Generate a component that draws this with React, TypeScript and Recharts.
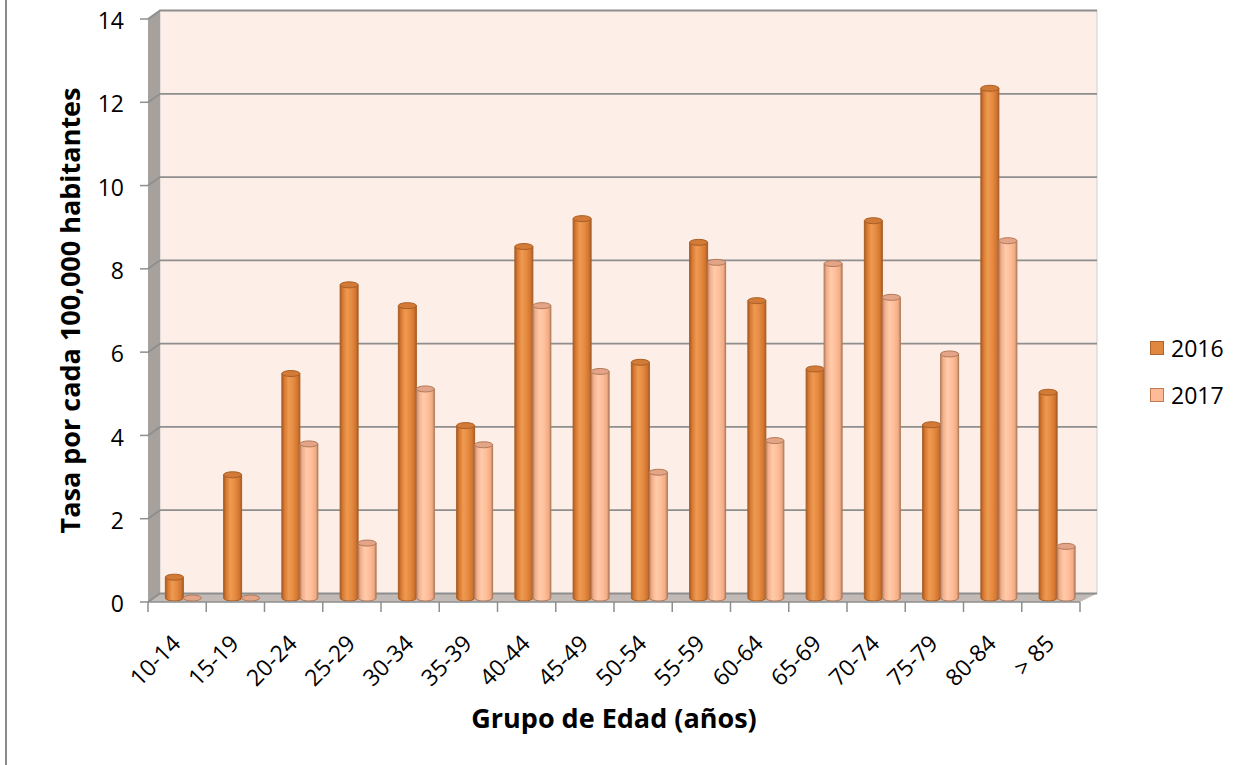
import React from 'react';
import { BarChart, Bar, XAxis, YAxis, Legend, ReferenceArea } from 'recharts';

const categories = ['10-14', '15-19', '20-24', '25-29', '30-34', '35-39', '40-44', '45-49', '50-54', '55-59', '60-64', '65-69', '70-74', '75-79', '80-84', '> 85'];
const values2016 = [0.5, 2.96, 5.39, 7.52, 7.02, 4.14, 8.44, 9.11, 5.66, 8.54, 7.14, 5.5, 9.06, 4.16, 12.24, 4.94];
const values2017 = [0, 0, 3.7, 1.32, 5.02, 3.68, 7.02, 5.44, 3.02, 8.06, 3.78, 8.03, 7.22, 5.86, 8.58, 1.24];
const yTicks = [0, 2, 4, 6, 8, 10, 12, 14];
const seriesNames = ['2016', '2017'];
const yTitle = 'Tasa por cada 100,000 habitantes';
const xTitle = 'Grupo de Edad (años)';

const data = categories.map((c, i) => ({ grupo: c, v2016: values2016[i], v2017: values2017[i] }));

const FONT = '"Open Sans", "Liberation Sans", sans-serif';
const BACK_DX_L = 12;
const BACK_DX_R = 17;
const BACK_DY = -8.5;
const MID_DX = 6.3;
const MID_DY = -4;

const WallShape = (props: any) => {
  const { x, y, width, height } = props;
  if (x == null) return null;
  const bx = x + BACK_DX_L;
  const by = y + BACK_DY;
  const bxr = x + width + BACK_DX_R;
  const byb = y + height + BACK_DY;
  const span = yTicks[yTicks.length - 1] - yTicks[0];
  return (
    <g>
      <rect x={bx} y={by} width={bxr - bx} height={byb - by} fill="#FDEEE7" stroke="#CFCFCF" strokeWidth={1} />
      <polygon points={`${x},${y} ${bx},${by} ${bx},${byb} ${x},${y + height}`} fill="#A7A19D" />
      <polygon points={`${x},${y + height} ${bx},${byb} ${bxr},${byb} ${x + width},${y + height}`} fill="#C2BAB6" />
      {yTicks.map((t) => {
        const fy = y + height - ((t - yTicks[0]) / span) * height;
        return (
          <polyline
            key={t}
            points={`${x},${fy} ${bx},${fy + BACK_DY} ${bxr},${fy + BACK_DY}`}
            fill="none"
            stroke="#8E8E8E"
            strokeWidth={1.8}
          />
        );
      })}
    </g>
  );
};

const makeCylinder = (gradId: string, topFill: string, stroke: string) => (props: any) => {
  const { x, y, width, height } = props;
  if (x == null || y == null) return null;
  const left = x + MID_DX;
  const top = y + MID_DY;
  const bottom = y + (height || 0) + MID_DY;
  const rx = width / 2;
  const ry = 3;
  return (
    <g>
      {height > 0.5 && (
        <path
          d={`M${left},${top} L${left},${bottom} A${rx},${ry} 0 0 0 ${left + width},${bottom} L${left + width},${top} Z`}
          fill={`url(#${gradId})`}
          stroke={stroke}
          strokeWidth={1}
        />
      )}
      <ellipse cx={left + rx} cy={top} rx={rx} ry={ry} fill={topFill} stroke={stroke} strokeWidth={1} />
    </g>
  );
};

const Cyl2016 = makeCylinder('g2016', '#D27A36', '#A95F27');
const Cyl2017 = makeCylinder('g2017', '#E3A487', '#B27A58');

const XTick = (props: any) => {
  const { x, y, payload, index } = props;
  const off = payload && payload.offset ? payload.offset : 29;
  const lx = x - off;
  const isLast = index === categories.length - 1;
  const tx = x + 5;
  const ty = y + 33;
  return (
    <g>
      <line x1={lx} y1={y - 10} x2={lx} y2={y} stroke="#8E8E8E" strokeWidth={1.5} />
      {isLast && <line x1={x + off} y1={y - 10} x2={x + off} y2={y} stroke="#8E8E8E" strokeWidth={1.5} />}
      <text
        x={tx}
        y={ty}
        transform={`rotate(-45, ${tx}, ${ty})`}
        textAnchor="end"
        fontSize={23}
        fontFamily={FONT}
        fill="#000"
      >
        {payload.value}
      </text>
    </g>
  );
};

const legendBorders = ['#B0632A', '#C07A50'];

const renderLegend = (props: any) => {
  const payload = props.payload || [];
  return (
    <div style={{ fontFamily: FONT }}>
      {payload.map((e: any, i: number) => (
        <div key={i} style={{ display: 'flex', alignItems: 'center', height: 47 }}>
          <span
            style={{
              display: 'inline-block',
              width: 12,
              height: 12,
              background: e.color,
              border: `1.5px solid ${legendBorders[i]}`,
              marginRight: 7,
            }}
          />
          <span style={{ fontSize: 23, color: '#000', lineHeight: '26px' }}>{e.value}</span>
        </div>
      ))}
    </div>
  );
};

export default function App() {
  return (
    <div style={{ position: 'absolute', left: 0, top: 0, width: 1243, height: 765, background: '#fff' }}>
      <div style={{ position: 'absolute', left: 5, top: 0, width: 2, height: 765, background: '#8A8A8A' }} />
      <BarChart
        width={1243}
        height={765}
        data={data}
        margin={{ top: 19, right: 163, bottom: 37, left: 68 }}
        barCategoryGap="19%"
        barGap={0}
      >
        <defs>
          <linearGradient id="g2016" x1="0" y1="0" x2="1" y2="0">
            <stop offset="0" stopColor="#A95A22" />
            <stop offset="0.15" stopColor="#D97A32" />
            <stop offset="0.38" stopColor="#EE9A52" />
            <stop offset="0.65" stopColor="#E58A40" />
            <stop offset="0.88" stopColor="#D07430" />
            <stop offset="1" stopColor="#A45A24" />
          </linearGradient>
          <linearGradient id="g2017" x1="0" y1="0" x2="1" y2="0">
            <stop offset="0" stopColor="#C08868" />
            <stop offset="0.15" stopColor="#F3B08C" />
            <stop offset="0.38" stopColor="#FFCBAA" />
            <stop offset="0.65" stopColor="#FFBD98" />
            <stop offset="0.88" stopColor="#EFAC86" />
            <stop offset="1" stopColor="#B88060" />
          </linearGradient>
        </defs>
        <XAxis
          dataKey="grupo"
          height={126}
          tickLine={false}
          tickSize={10}
          tickMargin={0}
          axisLine={{ stroke: '#8E8E8E', strokeWidth: 1.5 }}
          tick={<XTick />}
          interval={0}
          label={{ value: xTitle, position: 'insideBottom', offset: 0, fontSize: 27, fontWeight: 700, fontFamily: FONT, fill: '#000' }}
        />
        <YAxis
          width={80}
          domain={[0, 14]}
          ticks={yTicks}
          axisLine={false}
          tickLine={{ stroke: '#8E8E8E', strokeWidth: 1.5 }}
          tickSize={8}
          tickMargin={16}
          tick={{ fontSize: 23, fontFamily: FONT, fill: '#000', dy: 2 }}
          label={{ value: yTitle, angle: -90, position: 'insideLeft', offset: 2, fontSize: 27, fontWeight: 700, fontFamily: FONT, fill: '#000', style: { textAnchor: 'middle' } }}
        />
        <ReferenceArea y1={0} y2={14} ifOverflow="visible" shape={<WallShape />} />
        <Legend
          layout="vertical"
          align="center"
          verticalAlign="middle"
          wrapperStyle={{ left: 1150, top: 324 }}
          content={renderLegend}
        />
        <Bar dataKey="v2016" name={seriesNames[0]} fill="#E18840" shape={Cyl2016} isAnimationActive={false} />
        <Bar dataKey="v2017" name={seriesNames[1]} fill="#FFBB98" shape={Cyl2017} isAnimationActive={false} />
      </BarChart>
    </div>
  );
}
